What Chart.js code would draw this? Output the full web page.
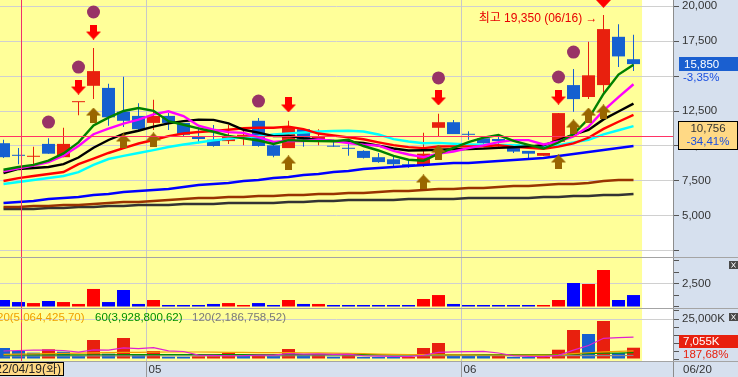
<!DOCTYPE html>
<html>
<head>
<meta charset="utf-8">
<script src="https://cdn.jsdelivr.net/npm/chart.js@4.4.1/dist/chart.umd.min.js"></script>
<style>
  body { margin: 0; background: #fff; }
  #wrap { position: relative; width: 738px; height: 377px; overflow: hidden; background: #fff; }
  canvas { position: absolute; left: 0; }
  .sep { position: absolute; left: 0; width: 738px; height: 1px; background: #a4a4a4; }
</style>
</head>
<body>
<div id="wrap">
  <canvas id="price" width="738" height="257" style="top:0"></canvas>
  <div class="sep" style="top:257px"></div>
  <canvas id="amount" width="738" height="50" style="top:258px"></canvas>
  <div class="sep" style="top:308px"></div>
  <canvas id="volume" width="738" height="68" style="top:309px"></canvas>
  <div class="sep" style="top:361px"></div>
</div>
<script>
// trading days 2022-04-18 .. 2022-06-20
var dates = ['04/18','04/19','04/20','04/21','04/22','04/25','04/26','04/27','04/28','04/29',
  '05/02','05/03','05/04','05/06','05/09','05/10','05/11','05/12','05/13','05/16','05/17',
  '05/18','05/19','05/20','05/23','05/24','05/25','05/26','05/27','05/30','05/31',
  '06/02','06/03','06/07','06/08','06/09','06/10','06/13','06/14','06/15','06/16','06/17','06/20'];

var open  = [10200,9320,9230,10150,9200,13130,14300,14150,12450,12150,11650,12150,11650,10700,10450,10350,10550,11800,10050,9850,11200,10350,9970,9820,9650,9200,9050,8700,8650,11300,11700,10820,10550,10500,10100,9650,9300,10300,14350,13500,14350,17800,16200];
var high  = [10450,9850,9950,10550,11300,13150,17000,14450,14950,13050,13300,12350,11650,11300,11500,11500,11200,12000,10200,11800,11200,11200,10450,10450,9700,9500,9300,9000,10950,12300,11850,11050,10550,10700,10150,9650,9500,12350,15500,17450,19350,18700,17950];
var low   = [9150,8700,8350,9450,9200,12200,13350,11450,11350,11000,11150,11150,10650,10200,9950,10150,10050,9950,9200,9850,9950,10050,9950,9300,9100,8800,8550,8450,8500,10700,10850,10450,10000,9950,9500,9050,9300,10300,12450,13350,13800,15650,15350];
var close = [9200,9300,9250,9450,10150,13150,15350,12050,11800,11200,12150,11650,10800,10500,10000,10650,10800,10000,9300,11350,10450,10650,9950,9800,9150,8850,8700,8600,9450,11700,10850,10800,10200,10350,9600,9450,9500,12350,13350,15050,18350,16400,15850];

// price moving averages as drawn
var ma5   = [8300,8500,8650,8950,9470,10260,11470,12030,12500,12710,12510,11770,11520,11260,11020,10720,10550,10390,10150,10420,10380,10350,10340,10440,10000,9680,9290,9020,8950,9460,9860,10280,10600,10780,10360,10080,9820,10250,10850,11940,13720,15100,15800];
var ma7   = [8200,8400,8600,8850,9300,10000,10840,11240,11600,11880,12260,12480,12140,11450,11160,10990,10940,10630,10290,10370,10360,10460,10360,10210,10090,10030,9650,9390,9210,9460,9610,9850,10040,10280,10420,10420,10110,10320,10690,11380,12520,13490,14410];
var ma10  = [8070,8360,8430,8500,8710,9180,9880,10430,10860,11090,11385,11620,11775,11880,11865,11615,11160,10955,10705,10720,10550,10450,10365,10295,10210,10030,9820,9680,9695,9730,9770,9785,9810,9865,9910,9970,10050,10425,10815,11150,11900,12460,13025];
var ma15  = [7500,7710,7860,8000,8140,8700,9100,9500,9850,10180,10430,10710,10890,11000,11067,11163,11263,11313,11303,11383,11203,10890,10750,10617,10480,10260,10063,9917,9847,9960,9973,9973,9987,10057,9940,9873,9797,9957,10193,10587,11220,11733,12217];
var ma20  = [7290,7430,7570,7710,7860,8140,8650,9070,9290,9500,9710,9930,10110,10250,10400,10520,10620,10700,10820,10905,10968,11035,11070,11088,11038,10823,10490,10318,10200,10225,10160,10118,10088,10080,10060,10000,9935,10053,10255,10440,10835,11123,11418];
var ma60  = [5930,6000,6070,6210,6290,6360,6500,6570,6710,6790,6860,6930,7070,7210,7290,7360,7500,7570,7710,7790,7930,8000,8140,8210,8360,8430,8500,8570,8640,8710,8790,8790,8860,8930,9000,9070,9140,9290,9430,9570,9710,9860,10000];
var ma120 = [5640,5640,5710,5710,5790,5790,5860,5930,6000,6000,6070,6140,6210,6290,6290,6360,6360,6430,6430,6500,6500,6570,6570,6640,6640,6710,6790,6790,6860,6930,6930,7000,7000,7070,7140,7140,7210,7290,7290,7360,7500,7570,7570];
var ma240 = [5500,5500,5500,5570,5570,5640,5640,5710,5710,5790,5790,5790,5860,5860,5860,5930,5930,5930,5930,6000,6000,6070,6070,6140,6140,6140,6140,6210,6210,6210,6210,6290,6290,6290,6290,6290,6360,6360,6430,6430,6500,6500,6570];

// signal markers
var dotIdx  = [3,5,6,17,29,37,38];
var dotVal  = [11710,15640,19570,13210,14860,14930,16710];
var sellIdx = [5,6,19,29,37,40];
var sellVal = [14210,18140,12930,13430,13500,20400];
var buyIdx  = [6,8,10,19,28,29,37,38,39,40];
var buyVal  = [12210,10360,10430,8790,7430,9570,8860,11360,12210,12430];

// trading value (100M won) and volume (K shares)
var amount = [760,540,430,650,540,330,1960,540,1850,330,760,220,220,220,330,430,220,430,220,760,330,330,220,220,110,110,110,110,870,1300,330,220,220,220,110,220,220,760,2610,2500,4020,760,1300];
var volume = [6880,5000,3960,6060,4580,1880,11880,3310,13130,2500,5000,1440,1400,1700,1800,3750,1880,2940,1880,6250,2310,2500,1440,2690,1250,1200,1150,1250,6880,10000,2900,2000,1900,2000,1300,1100,1400,5810,18130,15630,23750,3759,7055];
var volMa5   = [5000,5300,5500,5600,5300,4300,5670,5540,6960,6540,7160,5080,4690,2410,2270,2020,2110,2410,2450,3340,3050,3180,2880,3040,2040,1820,1550,1510,2350,4100,4440,4610,4740,3760,2020,1660,1540,2320,5550,8410,12940,13420,13665];
var volMa20  = [2940,3100,3250,3400,3550,3700,3850,3950,4100,4200,4300,4380,4380,4380,4300,4200,4100,4000,3950,3950,3900,3800,3650,3500,3300,3100,2950,2800,2700,2650,2600,2550,2500,2500,2450,2450,2450,2600,3300,3900,4500,4800,5064];
var volMa60  = [2550,2560,2580,2600,2600,2610,2650,2660,2700,2700,2720,2720,2710,2700,2700,2720,2700,2700,2690,2720,2720,2720,2700,2700,2690,2680,2660,2650,2700,2760,2760,2750,2740,2740,2720,2700,2700,2780,3060,3300,3680,3720,3929];
var volMa120 = [1900,1900,1910,1920,1920,1920,1960,1970,2010,2010,2020,2020,2020,2020,2010,2020,2020,2020,2010,2040,2040,2040,2030,2040,2030,2030,2020,2020,2050,2070,2070,2070,2060,2060,2050,2050,2050,2080,2120,2150,2170,2170,2187];
var volLegend = ['20(5,064,425,70)', '60(3,928,800,62)', '120(2,186,758,52)'];

var priceTicks  = [2500,5000,7500,10000,12500,15000,17500,20000];
var amountTicks = [0,1250,2500,3750,5000];
var volumeTicks = [0,5000,10000,15000,20000,25000,30000];

var cursorIdx = 1, cursorPrice = 10756, cursorDay = '화';

// ---- look ----
var FONT = '"Liberation Sans", "Noto Sans CJK KR", sans-serif';
var PLOT_BG = '#ffff99', AXIS_BG = '#d6e0ee', GRID = '#d0d0d0';
var UP = '#e8200e', DOWN = '#1560d0';
var X_MIN = -3.5 / 15, X_MAX = X_MIN + 673 / 15, PLOT_END = close.length - 0.43;

function fmt(v) { return v.toLocaleString('en-US'); }
function pct(v) { return (v * 100).toFixed(2).replace('.', ',') + '%'; }
function pts(arr) { return arr.map(function (v, i) { return { x: i, y: v }; }); }
function sig(idx, val) { return idx.map(function (k, i) { return { x: k, y: val[i] }; }); }

var candleColor = close.map(function (c, i) { return c >= open[i] ? UP : DOWN; });
var amountColor = close.map(function (c, i) { return c >= open[i] ? '#ff0000' : '#0000ff'; });
var volumeColor = volume.map(function (v, i) { return i > 0 && v > volume[i - 1] ? UP : DOWN; });

function arrow(color, down) {
  var c = document.createElement('canvas'); c.width = 15; c.height = 15;
  var g = c.getContext('2d'); g.fillStyle = color;
  if (down) {
    g.fillRect(4, 0, 7, 8);
    g.beginPath(); g.moveTo(0, 7); g.lineTo(15, 7); g.lineTo(7.5, 15); g.closePath(); g.fill();
  } else {
    g.beginPath(); g.moveTo(7.5, 0); g.lineTo(15, 8); g.lineTo(0, 8); g.closePath(); g.fill();
    g.fillRect(4, 7, 7, 8);
  }
  return c;
}

function xAxis() { return { type: 'linear', min: X_MIN, max: X_MAX, offset: false, display: false }; }
function yAxis(min, max, ticks, label, grid) {
  return {
    position: 'right', min: min, max: max,
    afterFit: function (s) { s.width = 65; s.paddingTop = 0; s.paddingBottom = 0; },
    afterBuildTicks: function (s) { s.ticks = ticks.map(function (v) { return { value: v }; }); },
    ticks: { callback: label, autoSkip: false, maxRotation: 0, padding: 3, color: '#333', font: { family: FONT, size: 11.5 } },
    grid: { color: grid, tickLength: 6, tickColor: '#555' },
    border: { display: true, color: '#8c8c8c' }
  };
}

var frame = {
  id: 'frame',
  beforeDraw: function (chart) {
    var ctx = chart.ctx, a = chart.chartArea, x = chart.scales.x;
    ctx.save();
    ctx.fillStyle = '#fff'; ctx.fillRect(0, 0, chart.width, chart.height);
    ctx.fillStyle = AXIS_BG; ctx.fillRect(a.right, 0, chart.width - a.right, chart.height);
    ctx.fillStyle = PLOT_BG; ctx.fillRect(a.left, a.top, x.getPixelForValue(PLOT_END) - a.left, a.bottom - a.top);
    ctx.restore();
  },
  beforeDatasetsDraw: function (chart) {
    var ctx = chart.ctx, a = chart.chartArea, x = chart.scales.x;
    ctx.save(); ctx.strokeStyle = '#c8c8c8'; ctx.lineWidth = 1;
    for (var i = 1; i < dates.length; i++) {
      if (dates[i].slice(0, 2) !== dates[i - 1].slice(0, 2)) {
        var px = Math.round(x.getPixelForValue(i - 0.5)) + 0.5;
        ctx.beginPath(); ctx.moveTo(px, a.top); ctx.lineTo(px, a.bottom); ctx.stroke();
      }
    }
    ctx.restore();
  },
  afterDatasetsDraw: function (chart) {
    var ctx = chart.ctx, a = chart.chartArea, x = chart.scales.x;
    var cx = Math.round(x.getPixelForValue(cursorIdx + 0.17)) + 0.5;
    ctx.save(); ctx.strokeStyle = '#f0306a'; ctx.lineWidth = 1;
    ctx.beginPath(); ctx.moveTo(cx, a.top); ctx.lineTo(cx, a.bottom); ctx.stroke();
    ctx.restore();
  }
};

function closeIcon(ctx, x, y) {
  ctx.fillStyle = '#4a4a4a'; ctx.fillRect(x, y, 9, 8);
  ctx.strokeStyle = '#fff'; ctx.lineWidth = 1;
  ctx.beginPath(); ctx.moveTo(x + 2.5, y + 1.5); ctx.lineTo(x + 6.5, y + 6.5);
  ctx.moveTo(x + 6.5, y + 1.5); ctx.lineTo(x + 2.5, y + 6.5); ctx.stroke();
}

var baseOptions = function (scales, padBottom) {
  return {
    responsive: false, animation: false, devicePixelRatio: 1,
    layout: { autoPadding: false, padding: { top: 0, left: 0, right: 0, bottom: padBottom || 0 } },
    plugins: { legend: { display: false }, tooltip: { enabled: false } },
    scales: scales
  };
};

// ---- price panel ----
var priceOverlay = {
  id: 'priceOverlay',
  afterDatasetsDraw: function (chart) {
    var ctx = chart.ctx, a = chart.chartArea, y = chart.scales.y;
    var cy = Math.floor(y.getPixelForValue(cursorPrice)) + 1.5;
    ctx.save(); ctx.strokeStyle = '#ff3366'; ctx.lineWidth = 1;
    ctx.beginPath(); ctx.moveTo(a.left, cy); ctx.lineTo(a.right, cy); ctx.stroke();
    ctx.restore();
  },
  afterDraw: function (chart) {
    var ctx = chart.ctx, a = chart.chartArea, x = chart.scales.x, y = chart.scales.y;
    var last = close.length - 1, prev = close[last - 1];
    var hi = high.indexOf(Math.max.apply(null, high));
    ctx.save();
    ctx.textBaseline = 'middle';
    // highest price note
    ctx.font = '12px ' + FONT; ctx.fillStyle = '#e80000'; ctx.textAlign = 'right';
    ctx.fillText('최고 ' + fmt(high[hi]) + ' (' + dates[hi] + ') →', x.getPixelForValue(hi) - 6, y.getPixelForValue(high[hi]) + 4);
    // last price box
    ctx.font = '11.5px ' + FONT; ctx.textAlign = 'left';
    var py = Math.round(y.getPixelForValue(close[last]));
    ctx.fillStyle = AXIS_BG; ctx.fillRect(a.right + 7, py + 7, 58, 13);
    ctx.fillStyle = '#1a5fd0'; ctx.fillRect(a.right + 6, py - 7, 59, 14);
    ctx.fillStyle = '#fff'; ctx.fillText(fmt(close[last]), a.right + 11, py + 0.5);
    ctx.fillStyle = '#1a4fe0'; ctx.fillText(pct(close[last] / prev - 1), a.right + 10, py + 13.5);
    // cursor price box
    var cy = Math.round(y.getPixelForValue(cursorPrice));
    ctx.fillStyle = '#ffd985'; ctx.fillRect(a.right + 5, cy - 14, 60, 29);
    ctx.strokeStyle = '#000'; ctx.lineWidth = 1; ctx.strokeRect(a.right + 5.5, cy - 13.5, 59, 28);
    ctx.textAlign = 'center';
    ctx.fillStyle = '#333'; ctx.fillText(fmt(cursorPrice), a.right + 35, cy - 6.5);
    ctx.fillStyle = '#1a4fe0'; ctx.fillText(pct(cursorPrice / prev - 1), a.right + 35, cy + 7);
    ctx.restore();
  }
};

var priceDatasets = [
  { type: 'line', data: sig(dotIdx, dotVal), showLine: false, pointStyle: 'circle', pointRadius: 6.5, pointBackgroundColor: '#983366', pointBorderWidth: 0, order: 0 },
  { type: 'line', data: sig(sellIdx, sellVal), showLine: false, pointStyle: arrow('#ff0000', true), pointRadius: 8, order: 0 },
  { type: 'line', data: sig(buyIdx, buyVal), showLine: false, pointStyle: arrow('#996600', false), pointRadius: 8, order: 0 }
];
[[ma5, '#008000'], [ma7, '#ff00ff'], [ma10, '#000000'], [ma15, '#ff0000'], [ma20, '#00ffff'],
 [ma60, '#0000ff'], [ma120, '#993300'], [ma240, '#333333']].forEach(function (m) {
  priceDatasets.push({ type: 'line', data: pts(m[0]), borderColor: m[1], borderWidth: 2.4, pointRadius: 0, tension: 0, order: 2 });
});
priceDatasets.push({ type: 'bar', data: close.map(function (c, i) { return { x: i, y: [open[i], c] }; }),
  backgroundColor: candleColor, barThickness: 13, minBarLength: 1, grouped: false, inflateAmount: 0, order: 3 });
priceDatasets.push({ type: 'bar', data: close.map(function (c, i) { return { x: i, y: [low[i], high[i]] }; }),
  backgroundColor: candleColor, barThickness: 1, minBarLength: 1, grouped: false, inflateAmount: 0, order: 4 });

new Chart(document.getElementById('price'), {
  type: 'bar',
  data: { datasets: priceDatasets },
  options: baseOptions({
    x: xAxis(),
    y: yAxis(2071.4, 20428.6, priceTicks, function (v) { return v === 2500 ? '' : fmt(v); }, GRID)
  }),
  plugins: [frame, priceOverlay]
});

// ---- trading value panel ----
new Chart(document.getElementById('amount'), {
  type: 'bar',
  data: { datasets: [{ data: pts(amount), backgroundColor: amountColor, barThickness: 13, minBarLength: 2, grouped: false, inflateAmount: 0 }] },
  options: baseOptions({
    x: xAxis(),
    y: yAxis(-108.7, 5326, amountTicks, function (v) { return v === 2500 ? fmt(v) : ''; },
      function (c) { return c.tick && c.tick.value === 2500 ? GRID : 'rgba(0,0,0,0)'; })
  }),
  plugins: [frame, { id: 'amountIcon', afterDraw: function (chart) { closeIcon(chart.ctx, 729, 3); } }]
});

// ---- volume panel + date row ----
var volumeOverlay = {
  id: 'volumeOverlay',
  afterDraw: function (chart) {
    var ctx = chart.ctx, a = chart.chartArea, x = chart.scales.x, y = chart.scales.y;
    var last = volume.length - 1;
    ctx.save();
    ctx.textBaseline = 'middle'; ctx.textAlign = 'left';
    ctx.font = '11.5px ' + FONT;
    var legendX = [-3, 95, 192], legendC = ['#f0a000', '#009000', '#7a7a7a'];
    volLegend.forEach(function (t, i) { ctx.fillStyle = legendC[i]; ctx.fillText(t, legendX[i], 8.5); });
    closeIcon(ctx, 729, 4);
    // last volume box
    var py = Math.round(y.getPixelForValue(volume[last]));
    ctx.fillStyle = '#e8200e'; ctx.fillRect(a.right + 6, py - 13, 59, 13);
    ctx.fillStyle = '#fff'; ctx.fillText(fmt(volume[last]) + 'K', a.right + 10, py - 6);
    ctx.fillStyle = '#e8200e'; ctx.fillText(pct(volume[last] / volume[last - 1]), a.right + 10, py + 6.5);
    // date row
    var top = a.bottom + 1, h = chart.height - top;
    ctx.fillStyle = AXIS_BG; ctx.fillRect(0, top, chart.width, h);
    ctx.fillStyle = '#8c8c8c'; ctx.fillRect(a.right, top, 1, h);
    ctx.strokeStyle = '#999'; ctx.lineWidth = 1;
    ctx.fillStyle = '#333';
    for (var i = 1; i < dates.length; i++) {
      if (dates[i].slice(0, 2) !== dates[i - 1].slice(0, 2)) {
        var px = Math.round(x.getPixelForValue(i - 0.5)) + 0.5;
        ctx.beginPath(); ctx.moveTo(px, top); ctx.lineTo(px, chart.height); ctx.stroke();
        ctx.fillText(dates[i].slice(0, 2), px + 2, top + 7.5);
      }
    }
    ctx.fillText(dates[last], a.right + 10, top + 7.5);
    // cursor date box
    ctx.fillStyle = '#ffd985'; ctx.fillRect(0, top, 64, h - 1);
    ctx.strokeStyle = '#000'; ctx.strokeRect(-0.5, top + 0.5, 64, h - 2);
    ctx.save(); ctx.beginPath(); ctx.rect(0, top, 63, h); ctx.clip();
    ctx.fillStyle = '#222'; ctx.textAlign = 'right';
    ctx.font = '12px ' + FONT;
    ctx.fillText('22/' + dates[cursorIdx] + '(' + cursorDay + ')', 61, top + 7.5);
    ctx.restore();
    ctx.restore();
  }
};

var volDatasets = [];
[[volMa5, '#e020d0'], [volMa20, '#f0a000'], [volMa60, '#009000'], [volMa120, '#8a8a8a']].forEach(function (m) {
  volDatasets.push({ type: 'line', data: pts(m[0]), borderColor: m[1], borderWidth: 1.2, pointRadius: 0, tension: 0, order: 1 });
});
volDatasets.push({ type: 'bar', data: pts(volume), backgroundColor: volumeColor, barThickness: 13, minBarLength: 2, grouped: false, inflateAmount: 0, order: 2 });

new Chart(document.getElementById('volume'), {
  type: 'bar',
  data: { datasets: volDatasets },
  options: baseOptions({
    x: xAxis(),
    y: yAxis(-1250, 31250, volumeTicks, function (v) { return v === 25000 ? fmt(v) + 'K' : ''; },
      function (c) { return c.tick && c.tick.value === 25000 ? GRID : 'rgba(0,0,0,0)'; })
  }, 16),
  plugins: [frame, volumeOverlay]
});
</script>
</body>
</html>
